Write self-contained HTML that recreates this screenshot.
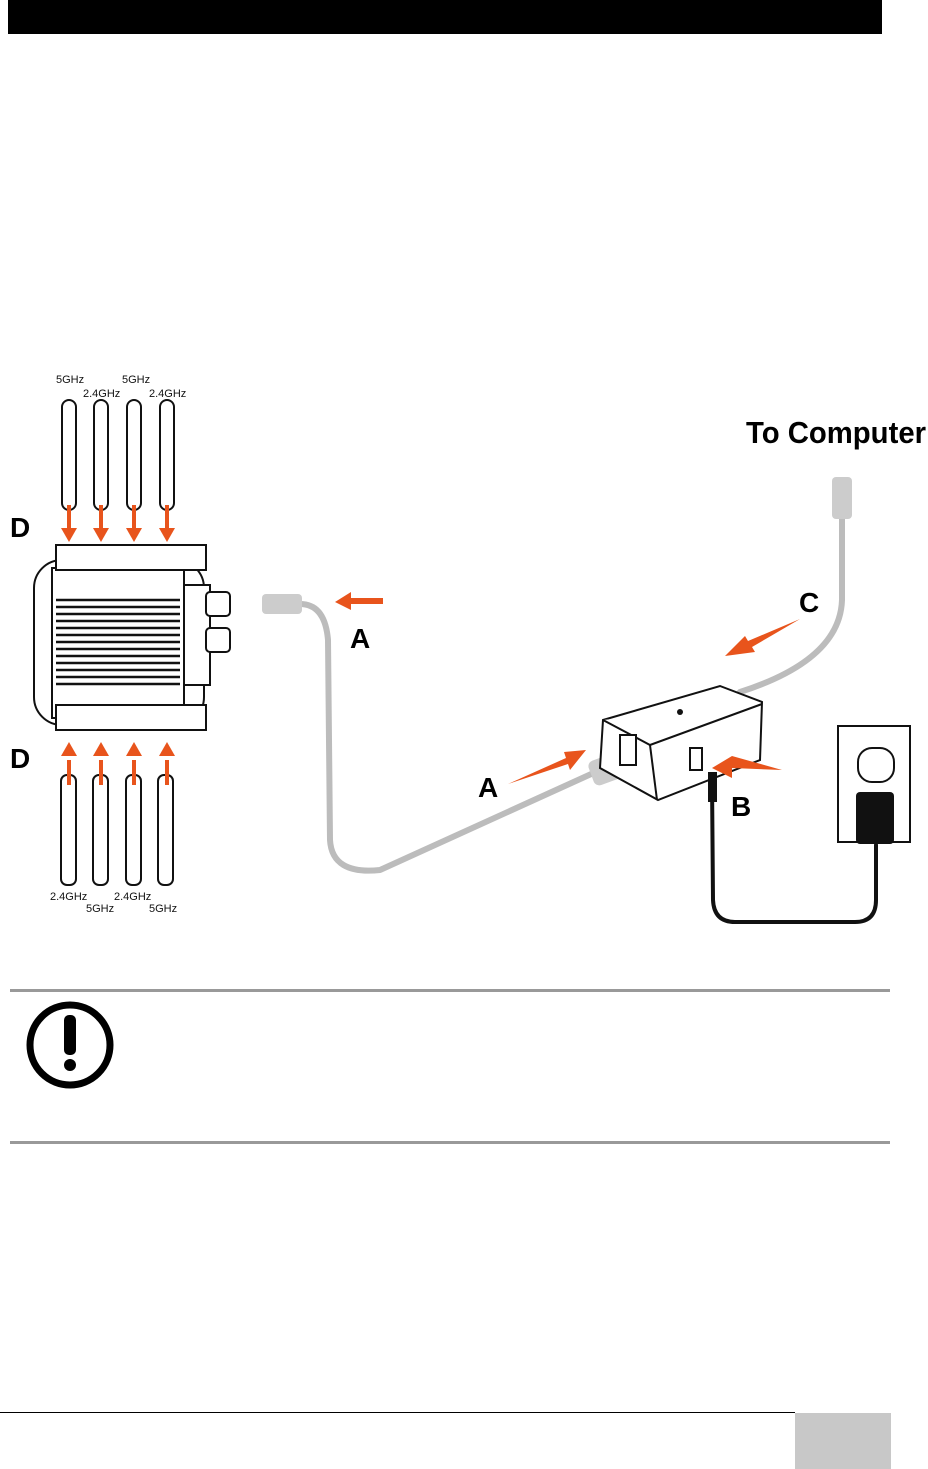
<!DOCTYPE html>
<html><head><meta charset="utf-8"><style>
html,body{margin:0;padding:0;background:#fff}
body{width:928px;height:1469px;position:relative;overflow:hidden;font-family:"Liberation Sans",sans-serif}
</style></head><body>
<svg width="928" height="1469" viewBox="0 0 928 1469" xmlns="http://www.w3.org/2000/svg" style="position:absolute;left:0;top:0">
<rect x="8" y="0" width="874" height="34" fill="#000"/>
<g font-family="Liberation Sans, sans-serif" font-size="11" fill="#111">
<text x="56" y="383">5GHz</text><text x="122" y="383">5GHz</text>
<text x="83" y="397">2.4GHz</text><text x="149" y="397">2.4GHz</text>
<text x="50" y="900">2.4GHz</text><text x="114" y="900">2.4GHz</text>
<text x="86" y="912">5GHz</text><text x="149" y="912">5GHz</text>
</g>
<g fill="#fff" stroke="#111" stroke-width="2">
<rect x="62" y="400" width="14" height="110" rx="7"/><rect x="94" y="400" width="14" height="110" rx="7"/>
<rect x="127" y="400" width="14" height="110" rx="7"/><rect x="160" y="400" width="14" height="110" rx="7"/>
<rect x="61" y="775" width="15" height="110" rx="6"/><rect x="93" y="775" width="15" height="110" rx="6"/>
<rect x="126" y="775" width="15" height="110" rx="6"/><rect x="158" y="775" width="15" height="110" rx="6"/>
<rect x="34" y="560" width="170" height="165" rx="28"/>
<rect x="52" y="568" width="132" height="150"/>
<rect x="56" y="545" width="150" height="25"/><rect x="56" y="705" width="150" height="25"/>
<rect x="184" y="585" width="26" height="100"/>
<rect x="206" y="592" width="24" height="24" rx="4"/><rect x="206" y="628" width="24" height="24" rx="4"/>
</g>
<g stroke="#111" stroke-width="2.5">
<line x1="56" y1="600" x2="180" y2="600"/><line x1="56" y1="607" x2="180" y2="607"/><line x1="56" y1="614" x2="180" y2="614"/><line x1="56" y1="621" x2="180" y2="621"/><line x1="56" y1="628" x2="180" y2="628"/><line x1="56" y1="635" x2="180" y2="635"/><line x1="56" y1="642" x2="180" y2="642"/><line x1="56" y1="649" x2="180" y2="649"/><line x1="56" y1="656" x2="180" y2="656"/><line x1="56" y1="663" x2="180" y2="663"/><line x1="56" y1="670" x2="180" y2="670"/><line x1="56" y1="677" x2="180" y2="677"/><line x1="56" y1="684" x2="180" y2="684"/>
</g>
<g fill="none" stroke="#bcbcbc" stroke-width="6" stroke-linecap="round">
<path d="M300 604 Q325 604 328 640 L330 840 Q332 875 380 870 L600 770"/>
<path d="M842 515 L842 600 Q840 660 740 692"/>
</g>
<rect x="262" y="594" width="40" height="20" rx="4" fill="#ccc"/>
<rect x="832" y="477" width="20" height="42" rx="4" fill="#ccc"/>
<rect x="590" y="755" width="40" height="26" rx="6" fill="#ccc" transform="rotate(-20 610 768)"/>
<g fill="#fff" stroke="#111" stroke-width="2">
<path d="M603 720 L720 686 L762 702 L760 760 L658 800 L600 768 Z"/>
<path d="M603 720 L650 745 L762 704"/><line x1="650" y1="745" x2="657" y2="800"/>
<rect x="620" y="735" width="16" height="30"/>
<rect x="690" y="748" width="12" height="22"/>
<rect x="838" y="726" width="72" height="116"/>
<rect x="858" y="748" width="36" height="34" rx="14"/>
</g>
<circle cx="680" cy="712" r="3" fill="#111"/>
<rect x="856" y="792" width="38" height="52" rx="4" fill="#111"/>
<g fill="none" stroke="#111" stroke-width="4" stroke-linecap="round">
<path d="M712 780 L713 900 Q714 922 735 922 L855 922 Q876 922 876 900 L876 845"/>
</g>
<rect x="708" y="772" width="9" height="30" fill="#111"/>
<g fill="#e8541c" stroke="#e8541c" stroke-width="4">
<line x1="69" y1="505" x2="69" y2="530"/><line x1="101" y1="505" x2="101" y2="530"/><line x1="134" y1="505" x2="134" y2="530"/><line x1="167" y1="505" x2="167" y2="530"/>
<line x1="69" y1="760" x2="69" y2="785"/><line x1="101" y1="760" x2="101" y2="785"/><line x1="134" y1="760" x2="134" y2="785"/><line x1="167" y1="760" x2="167" y2="785"/>
</g>
<g fill="#e8541c">
<path d="M61 528h16l-8 14z"/><path d="M93 528h16l-8 14z"/><path d="M126 528h16l-8 14z"/><path d="M159 528h16l-8 14z"/>
<path d="M61 756h16l-8-14z"/><path d="M93 756h16l-8-14z"/><path d="M126 756h16l-8-14z"/><path d="M159 756h16l-8-14z"/>
<path d="M335 602l16-10v6h32v6h-32v6z"/>
<path d="M725 656l20-20 3 5 52-22-48 28 3 5z"/>
<path d="M586 750l-22 2 2 6-58 26 60-20 2 6z"/>
<path d="M712 768l20-12 50 14-50 -2 0 10z"/>
</g>
<g font-family="Liberation Sans, sans-serif" font-weight="bold" fill="#000">
<text x="746" y="443" font-size="31" textLength="180" lengthAdjust="spacingAndGlyphs">To Computer</text>
<text x="10" y="537" font-size="28">D</text><text x="10" y="768" font-size="28">D</text>
<text x="350" y="648" font-size="28">A</text><text x="478" y="797" font-size="28">A</text>
<text x="799" y="612" font-size="28">C</text><text x="731" y="816" font-size="28">B</text>
</g>
<rect x="10" y="989" width="880" height="3" fill="#999"/>
<rect x="10" y="1141" width="880" height="3" fill="#999"/>
<circle cx="70" cy="1045" r="40" fill="#fff" stroke="#000" stroke-width="7"/>
<rect x="64" y="1015" width="12" height="40" rx="5" fill="#000"/>
<circle cx="70" cy="1065" r="6" fill="#000"/>
<rect x="0" y="1412" width="795" height="1" fill="#000"/>
<rect x="795" y="1413" width="96" height="56" fill="#c8c8c8"/>
</svg>
</body></html>
